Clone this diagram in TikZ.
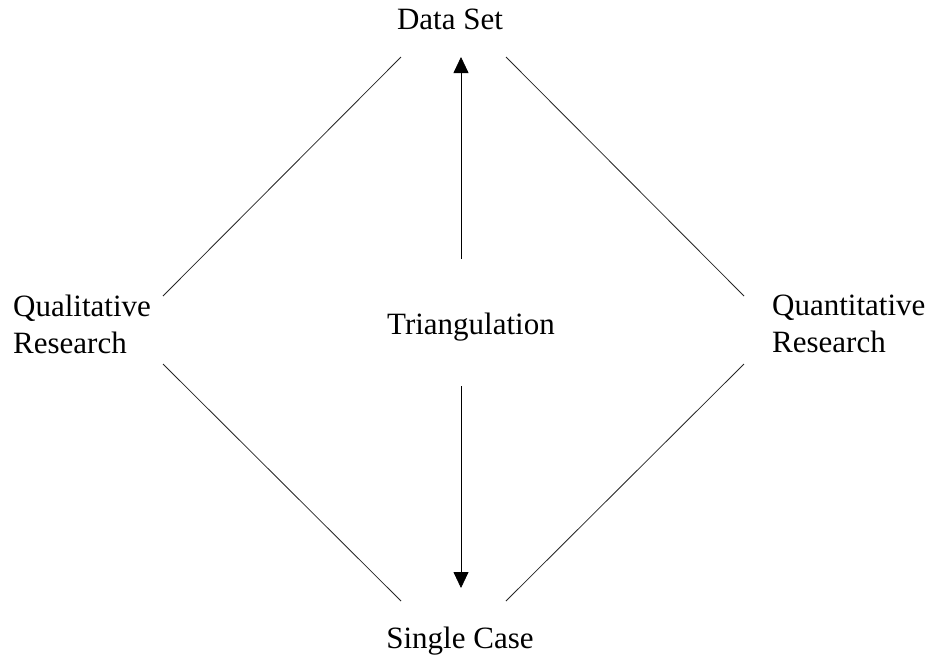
\documentclass[tikz,border=0pt]{standalone}
\usepackage{fontspec}
\setmainfont{Liberation Serif}
\usetikzlibrary{arrows.meta}

\begin{document}
\begin{tikzpicture}[x=1pt,y=-1pt,
  label text/.style={inner sep=0pt,font=\fontsize{31}{37}\selectfont},
  edge line/.style={line width=0.8pt,draw=black!85},
  up arrow/.style={line width=0.8pt,-{Triangle[length=16pt,width=15pt]}}]
  \useasboundingbox[fill=white] (0,0) rectangle (930,657);

  % labels
  \node[label text,anchor=base] (data) at (450,29) {Data Set};
  \node[label text,anchor=base] (tri) at (471,334) {Triangulation};
  \node[label text,anchor=base] (single) at (460,648) {Single Case};
  % base of a two-line node is the baseline of its last line
  \node[label text,anchor=base west,align=left] (qual) at (13,353) {Qualitative\\Research};
  \node[label text,anchor=base west,align=left] (quant) at (772,352) {Quantitative\\Research};

  % end points of the diamond sides
  \coordinate (ql-up) at (163,296);
  \coordinate (ql-dn) at (163,364);
  \coordinate (qn-up) at (744,296);
  \coordinate (qn-dn) at (744,364);
  \coordinate (ds-l) at (401,57);
  \coordinate (ds-r) at (506,57);
  \coordinate (sc-l) at (401,601);
  \coordinate (sc-r) at (506,601);

  \draw[edge line] (ql-up) -- (ds-l);
  \draw[edge line] (ds-r) -- (qn-up);
  \draw[edge line] (ql-dn) -- (sc-l);
  \draw[edge line] (sc-r) -- (qn-dn);

  % triangulation arrows
  \coordinate (tri-top) at (461,259);
  \coordinate (data-tip) at (461,57);
  \coordinate (tri-bot) at (461,386);
  \coordinate (single-tip) at (461,588);
  \draw[up arrow] (tri-top) -- (data-tip);
  \draw[up arrow] (tri-bot) -- (single-tip);
\end{tikzpicture}
\end{document}
